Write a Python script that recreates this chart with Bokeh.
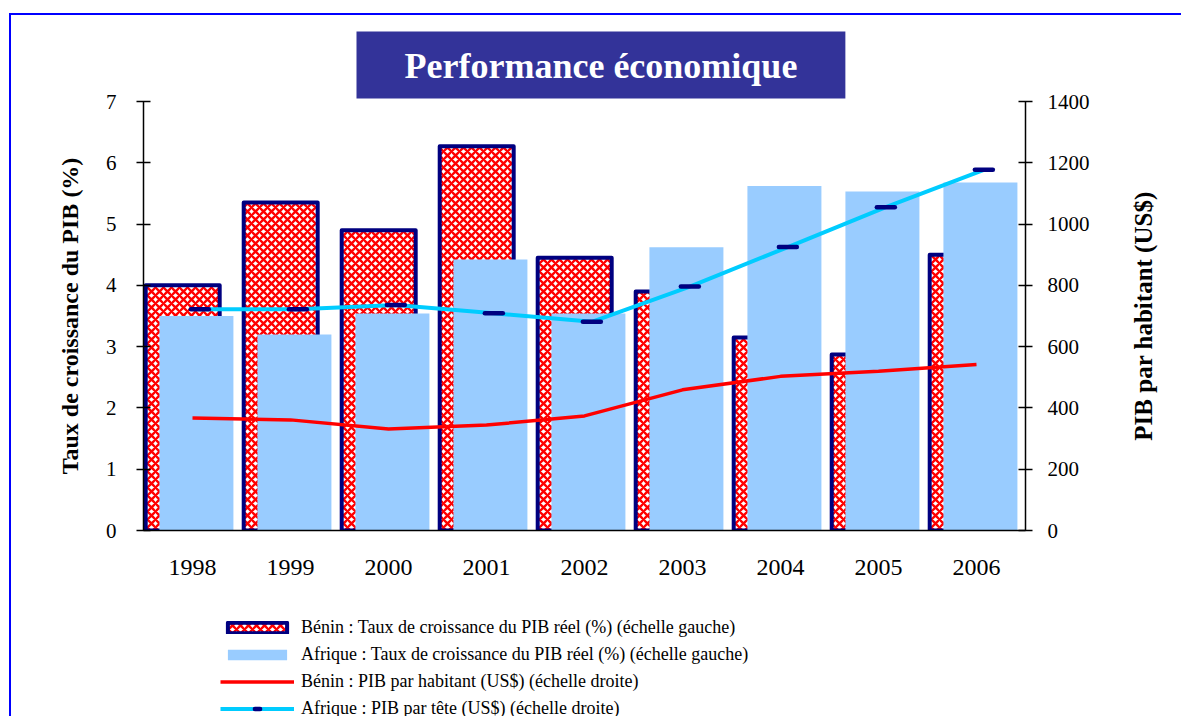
import math
from bokeh.plotting import figure
from bokeh.layouts import column, row
from bokeh.models import (Range1d, FactorRange, LinearAxis, Legend, LegendItem, Title,
                          ColumnDataSource, FixedTicker)
from bokeh.transform import dodge
from bokeh.embed import file_html
from bokeh.resources import INLINE

# ---------------- data ----------------
years = ["1998", "1999", "2000", "2001", "2002", "2003", "2004", "2005", "2006"]
benin_growth = [4.0, 5.35, 4.9, 6.27, 4.45, 3.9, 3.15, 2.87, 4.5]
afrique_growth = [3.5, 3.2, 3.54, 4.42, 3.54, 4.62, 5.62, 5.53, 5.68]
benin_pib = [367, 361, 331, 344, 374, 459, 503, 520, 542]
afrique_pib = [722, 722, 736, 709, 681, 796, 925, 1055, 1177]
left_ticks = [0, 1, 2, 3, 4, 5, 6, 7]
right_ticks = [0, 200, 400, 600, 800, 1000, 1200, 1400]

labels = ["Bénin : Taux de croissance du PIB réel (%) (échelle gauche)",
          "Afrique : Taux de croissance du PIB réel (%) (échelle gauche)",
          "Bénin : PIB par habitant (US$) (échelle droite)",
          "Afrique : PIB par tête (US$) (échelle droite)"]

src = ColumnDataSource(dict(year=years, bg=benin_growth, ag=afrique_growth,
                            bp=benin_pib, ap=afrique_pib))

SERIF = "Liberation Serif"


def add_series(fig, source, right_name):
    xr = fig.x_range
    bb = fig.vbar(x=dodge("year", -0.10, range=xr), top="bg", width=0.755, source=source,
                  fill_color="white", line_color="#000080", line_width=4, line_join="round",
                  hatch_pattern="diagonal_cross", hatch_color="#FF0000",
                  hatch_scale=8, hatch_weight=2.3)
    ab = fig.vbar(x=dodge("year", 0.04, range=xr), top="ag", width=0.755, source=source,
                  fill_color="#99CCFF", line_color=None)
    bl = fig.line(x="year", y="bp", source=source, y_range_name=right_name,
                  line_color="#FF0000", line_width=3.5)
    al = fig.line(x=dodge("year", 0.075, range=xr), y="ap", source=source,
                  y_range_name=right_name, line_color="#00CCFF", line_width=4)
    am = fig.scatter(x=dodge("year", 0.075, range=xr), y="ap", source=source,
                     y_range_name=right_name, marker="dash", size=18, line_color="#000080",
                     line_width=4.5, line_cap="round")
    return bb, ab, bl, al, am


def tidy(fig):
    fig.outline_line_color = None
    fig.xgrid.grid_line_color = None
    fig.ygrid.grid_line_color = None
    fig.background_fill_color = "white"
    fig.border_fill_color = "white"


# ---------------- main chart ----------------
p = figure(width=1115, height=590, output_backend="svg", toolbar_location=None,
           x_range=FactorRange(factors=years), y_range=Range1d(0, 7),
           min_border_left=132, min_border_right=101, min_border_top=86,
           min_border_bottom=75, title=None)
p.extra_y_ranges = {"right": Range1d(0, 1400)}
tidy(p)
add_series(p, src, "right")

xa = p.xaxis[0]
xa.axis_line_color = "black"
xa.axis_line_width = 1.5
xa.major_tick_in = 0
xa.major_tick_out = 0
xa.minor_tick_line_color = None
xa.major_label_standoff = 29
xa.major_label_text_font = SERIF
xa.major_label_text_font_size = "24px"
xa.major_label_text_color = "black"

ya = p.yaxis[0]
ya.ticker = left_ticks
ya.axis_line_width = 1.5
ya.major_tick_line_width = 1.5
ya.major_tick_in = 7
ya.major_tick_out = 7
ya.minor_tick_line_color = None
ya.major_label_standoff = 20
ya.major_label_text_font = SERIF
ya.major_label_text_font_size = "21px"
ya.major_label_text_color = "black"
ya.axis_label = "Taux de croissance du PIB (%)"
ya.axis_label_text_font = SERIF
ya.axis_label_text_font_style = "bold"
ya.axis_label_text_font_size = "24px"
ya.axis_label_text_color = "black"
ya.axis_label_standoff = 20

ra = LinearAxis(y_range_name="right", ticker=right_ticks)
ra.axis_line_width = 1.5
ra.major_tick_line_width = 1.5
ra.major_tick_in = 7
ra.major_tick_out = 7
ra.minor_tick_line_color = None
ra.major_label_standoff = 15
ra.major_label_text_font = SERIF
ra.major_label_text_font_size = "21px"
ra.major_label_text_color = "black"
p.add_layout(ra, "right")

t = Title(text="Performance économique", align="left", offset=213, standoff=6,
          text_font=SERIF, text_font_style="bold", text_font_size="36px",
          text_color="white", background_fill_color="#333399",
          padding=dict(left=48, right=48, top=14, bottom=13))
p.add_layout(t, "above")

# ---------------- right-hand axis title (reads bottom-to-top) ----------------
r = figure(width=55, height=590, output_backend="svg", toolbar_location=None,
           x_range=Range1d(0, 1), y_range=Range1d(0, 1400),
           x_axis_location=None, y_axis_location="left",
           min_border_left=0, min_border_right=0, min_border_top=86,
           min_border_bottom=75, title=None)
tidy(r)
rya = r.yaxis[0]
rya.ticker = FixedTicker(ticks=[])
rya.axis_line_color = None
rya.major_tick_line_color = None
rya.minor_tick_line_color = None
rya.major_label_text_font_size = "0px"
rya.axis_label = "PIB par habitant (US$)"
rya.axis_label_text_font = SERIF
rya.axis_label_text_font_style = "bold"
rya.axis_label_text_font_size = "25px"
rya.axis_label_text_color = "black"
rya.axis_label_standoff = 5

# ---------------- legend strip ----------------
q = figure(width=1170, height=111, output_backend="svg", toolbar_location=None,
           x_range=FactorRange(factors=years), y_range=Range1d(0, 7),
           x_axis_location=None, y_axis_location=None,
           min_border_left=133, min_border_right=0, min_border_top=0,
           min_border_bottom=0, title=None)
q.extra_y_ranges = {"right": Range1d(0, 1400)}
tidy(q)
rs = add_series(q, src, "right")
for rr in rs:
    rr.visible = False   # only their legend samples are shown

legend = Legend(items=[
    LegendItem(label=labels[0], renderers=[rs[0]]),
    LegendItem(label=labels[1], renderers=[rs[1]]),
    LegendItem(label=labels[2], renderers=[rs[2]]),
    LegendItem(label=labels[3], renderers=[rs[3], rs[4]]),
], location=(76, -3), orientation="vertical", border_line_color=None,
    background_fill_alpha=0, padding=0, margin=0, spacing=6,
    glyph_width=74, glyph_height=13, label_height=21, label_standoff=7,
    label_text_font=SERIF, label_text_font_size="18px", label_text_color="black",
    click_policy="none", inactive_fill_alpha=0)
q.add_layout(legend, "center")

page = column(row(p, r, spacing=0), q, spacing=0)
page.styles = {"border-top": "2px solid #0000FF", "border-left": "2px solid #0000FF",
               "margin-top": "13px", "margin-left": "9px"}

open("out.html", "w").write(file_html(page, INLINE))
